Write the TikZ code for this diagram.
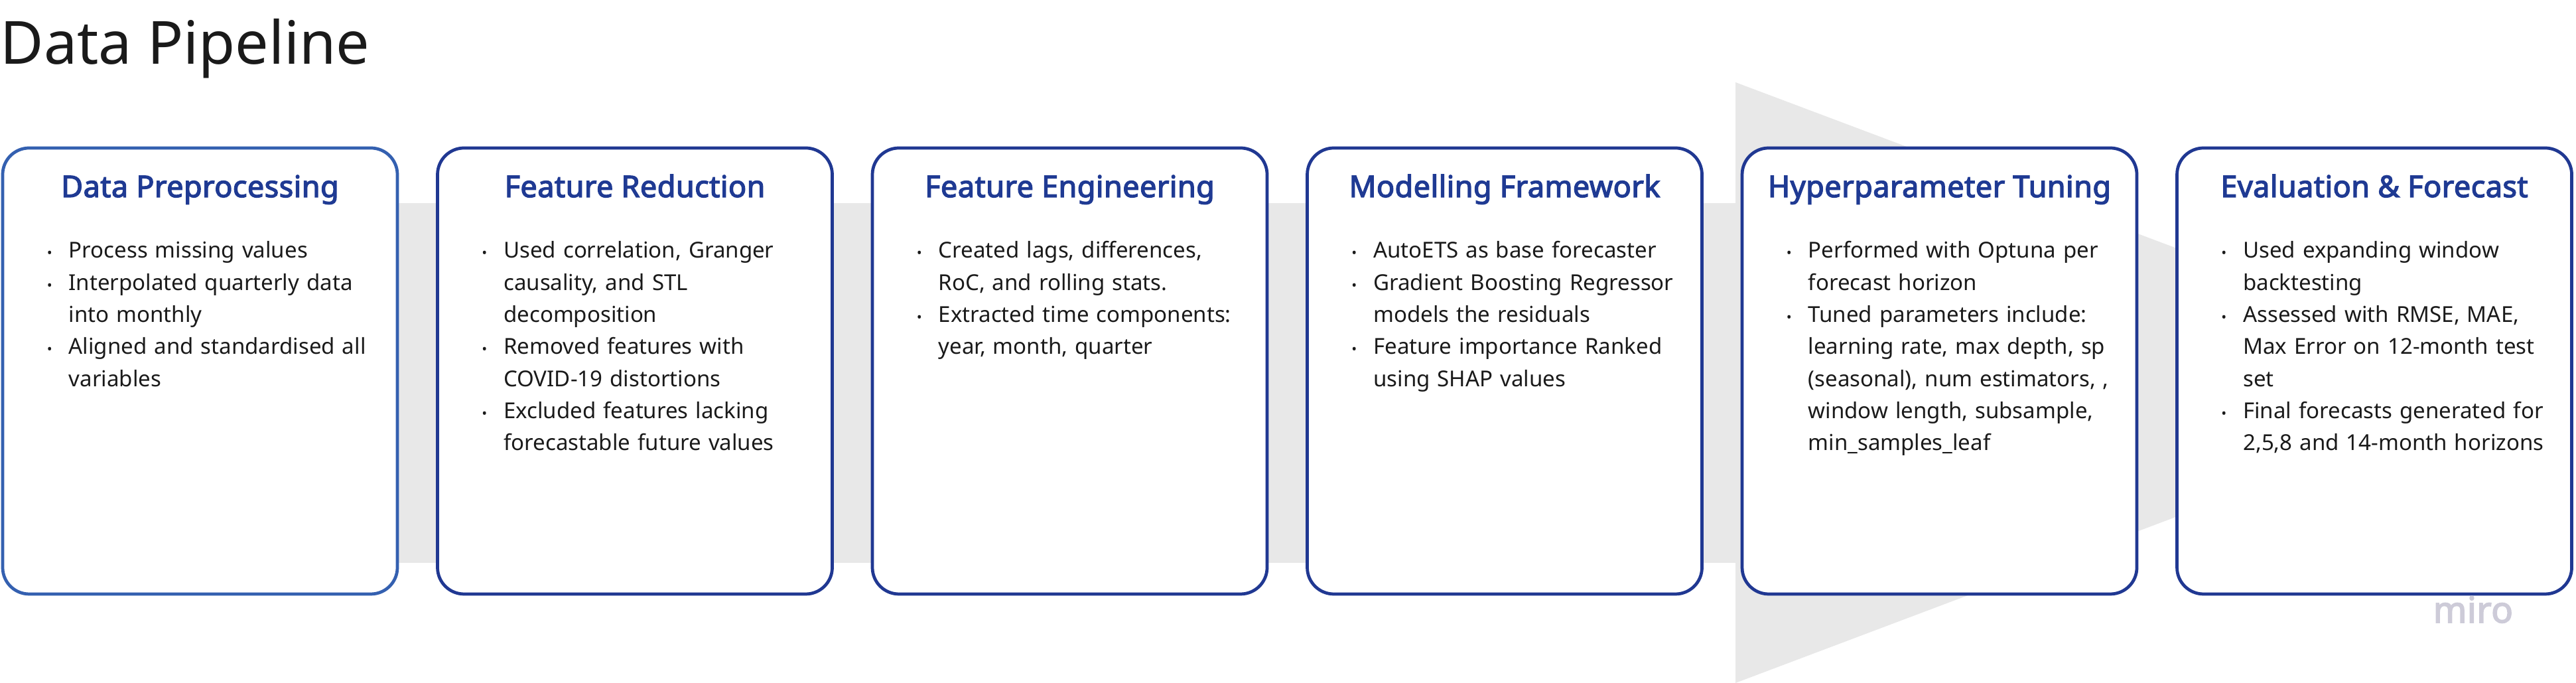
\documentclass[tikz,border=0pt]{standalone}
\usepackage{fontspec}
\setmainfont{Noto Sans}[BoldFont={Noto Sans}, BoldFeatures={FakeBold=3, LetterSpace=1}]
\usetikzlibrary{positioning}

\definecolor{headblue}{RGB}{31,58,147}
\definecolor{edgeblue}{RGB}{32,56,146}
\definecolor{firstblue}{RGB}{52,96,176}
\definecolor{bandgray}{RGB}{232,232,232}
\definecolor{inkgray}{RGB}{26,26,26}
\definecolor{mirogray}{RGB}{205,203,216}

% small bullet hanging left of the text column
\newcommand{\dotitem}{\leavevmode\llap{{\fontsize{6}{6}\selectfont\textbullet}\hspace{0.25cm}}}

\begin{document}
\begin{tikzpicture}[
    card/.style={draw=edgeblue, line width=1.35pt, rounded corners=0.4cm, fill=white,
      minimum width=5.95cm, minimum height=6.72cm, anchor=north west, inner sep=0, outer sep=0},
    cardtitle/.style={anchor=base, inner sep=0, text=headblue, font=\fontsize{12.8}{14}\selectfont\bfseries},
    cardtext/.style={anchor=base west, inner sep=0, text=inkgray, text width=5cm, align=left,
      font=\fontsize{9.4}{13.74}\selectfont}
  ]
  \useasboundingbox (0,0) rectangle (38.83,10.29);

  % title
  \node[anchor=base west, inner sep=0, text=inkgray, font=\fontsize{25.5}{30}\selectfont] (title) at (0,9.32) {Data Pipeline};

  % grey arrow behind the cards
  \fill[bandgray] (3,1.81) rectangle (26.16,7.23);
  \fill[bandgray] (26.16,9.05) -- (26.16,0) -- (38.18,4.53) -- cycle;

  % cards
  \node[card, draw=firstblue] (prep) at (0.04,8.06) {};
  \node[card] (reduce) at (6.595,8.06) {};
  \node[card] (engineer) at (13.15,8.06) {};
  \node[card] (model) at (19.705,8.06) {};
  \node[card] (tune) at (26.26,8.06) {};
  \node[card] (evaluate) at (32.815,8.06) {};

  % headings
  \node[cardtitle] (prep-title) at ([yshift=-0.74cm]prep.north) {Data Preprocessing};
  \node[cardtitle] (reduce-title) at ([yshift=-0.74cm]reduce.north) {Feature Reduction};
  \node[cardtitle] (engineer-title) at ([yshift=-0.74cm]engineer.north) {Feature Engineering};
  \node[cardtitle] (model-title) at ([yshift=-0.74cm]model.north) {Modelling Framework};
  \node[cardtitle] (tune-title) at ([yshift=-0.74cm]tune.north) {Hyperparameter Tuning};
  \node[cardtitle] (evaluate-title) at ([yshift=-0.74cm]evaluate.north) {Evaluation \& Forecast};

  % bullet lists
  \node[cardtext] (prep-text) at ([xshift=0.99cm,yshift=-1.66cm]prep.north west) {%
    \dotitem Process missing values\\
    \dotitem Interpolated quarterly data\\ into monthly\\
    \dotitem Aligned and standardised all\\ variables};
  \node[cardtext] (reduce-text) at ([xshift=0.99cm,yshift=-1.66cm]reduce.north west) {%
    \dotitem Used correlation, Granger\\ causality, and STL\\ decomposition\\
    \dotitem Removed features with\\ COVID-19 distortions\\
    \dotitem Excluded features lacking\\ forecastable future values};
  \node[cardtext] (engineer-text) at ([xshift=0.99cm,yshift=-1.66cm]engineer.north west) {%
    \dotitem Created lags, differences,\\ RoC, and rolling stats.\\
    \dotitem Extracted time components:\\ year, month, quarter};
  \node[cardtext] (model-text) at ([xshift=0.99cm,yshift=-1.66cm]model.north west) {%
    \dotitem AutoETS as base forecaster\\
    \dotitem Gradient Boosting Regressor\\ models the residuals\\
    \dotitem Feature importance Ranked\\ using SHAP values};
  \node[cardtext] (tune-text) at ([xshift=0.99cm,yshift=-1.66cm]tune.north west) {%
    \dotitem Performed with Optuna per\\ forecast horizon\\
    \dotitem Tuned parameters include:\\ learning rate, max depth, sp\\ (seasonal), num estimators, ,\\ window length, subsample,\\ min\_samples\_leaf};
  \node[cardtext] (evaluate-text) at ([xshift=0.99cm,yshift=-1.66cm]evaluate.north west) {%
    \dotitem Used expanding window\\ backtesting\\
    \dotitem Assessed with RMSE, MAE,\\ Max Error on 12-month test\\ set\\
    \dotitem Final forecasts generated for\\ 2,5,8 and 14-month horizons};

  % watermark
  \node[anchor=base west, inner sep=0, text=mirogray, font=\fontsize{15.4}{16}\selectfont\bfseries] (miro) at (36.67,0.91) {miro};
\end{tikzpicture}
\end{document}
